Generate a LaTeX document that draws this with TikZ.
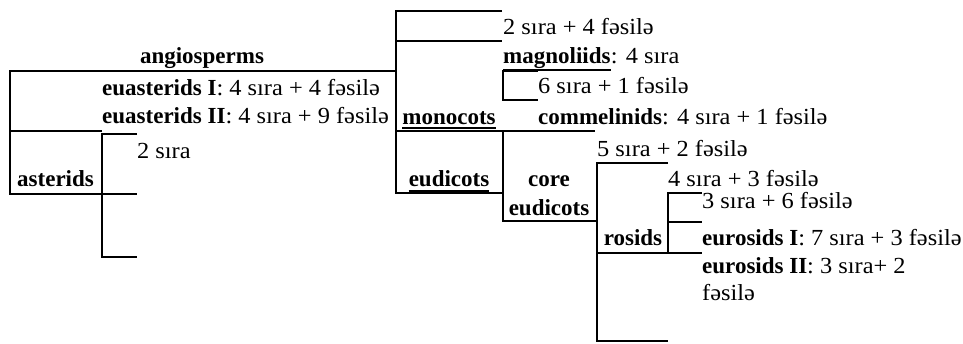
\documentclass[tikz,border=0pt]{standalone}
\usepackage{fontspec}
\setmainfont{Liberation Serif}
\newfontfamily\regf[FakeStretch=1.06]{Liberation Serif}
\newcommand{\rt}[1]{{\regf #1}}
\begin{document}
\begin{tikzpicture}[x=1pt,y=-1pt,
  tree/.style={line width=1.1pt},
  ul/.style={line width=2pt},
  lbl/.style={anchor=base west,inner sep=0pt,font=\fontsize{23}{27}\selectfont},
  blbl/.style={anchor=base west,inner sep=0pt,font=\fontsize{23}{27}\selectfont\bfseries},
  clbl/.style={anchor=base,inner sep=0pt,font=\fontsize{23}{27}\selectfont\bfseries}]
\useasboundingbox (0,0) rectangle (963,343);
% labels
\node[clbl] (angio) at (202,63) {angiosperms};
\node[lbl] (eaI) at (102,95) {\textbf{euasterids I}\rt{: 4 sıra + 4 fəsilə}};
\node[lbl] (eaII) at (102,123) {\textbf{euasterids II}\rt{: 4 sıra + 9 fəsilə}};
\node[lbl] (s2) at (137,158) {\rt{2 sıra}};
\node[blbl] (ast) at (17,186) {asterids};
\node[lbl] (t1) at (503,34) {\rt{2 sıra + 4 fəsilə}};
\node[blbl] (mag) at (503,63) {magnoliids};
\node[lbl] (magr) at (mag.base east) {\rt{: 4 sıra}};
\node[lbl] (t2) at (538,93) {\rt{6 sıra + 1 fəsilə}};
\node[clbl] (mono) at (449,124) {monocots};
\node[lbl] (comm) at (538,124) {\textbf{commelinids}\rt{: 4 sıra + 1 fəsilə}};
\node[clbl] (eud) at (449,186) {eudicots};
\node[clbl] (core) at (549,186) {core};
\node[clbl] (core2) at (549,215) {eudicots};
\node[lbl] (t3) at (597,156) {\rt{5 sıra + 2 fəsilə}};
\node[lbl] (t4) at (668,186) {\rt{4 sıra + 3 fəsilə}};
\node[lbl] (t5) at (702,208) {\rt{3 sıra + 6 fəsilə}};
\node[lbl] (euI) at (702,245) {\textbf{eurosids I}\rt{: 7 sıra + 3 fəsilə}};
\node[lbl] (euII) at (702,273) {\textbf{eurosids II}\rt{: 3 sıra+ 2}};
\node[lbl] (euII2) at (702,300) {\rt{fəsilə}};
\node[clbl] (ros) at (633,245) {rosids};
% underlines
\draw[ul] ([yshift=-7pt]mag.base west) -- ([yshift=-7pt]mag.base east);
\draw[ul] ([yshift=-4pt]mono.base west) -- ([yshift=-4pt]mono.base east);
\draw[ul] ([yshift=-5pt]eud.base west) -- ([yshift=-5pt]eud.base east);
% left tree
\draw[tree] (396,71) -- (10,71) -- (10,194) -- (137,194);
\draw[ul] (10,71) -- (102,71);
\draw[tree] (10,131) -- (102,131);
\draw[tree] (137,134) -- (102,134) -- (102,257) -- (137,257);
% middle tree
\draw[tree] (502,11) -- (396,11) -- (396,193) -- (503,193);
\draw[tree] (396,41) -- (502,41);
\draw[tree] (396,131) -- (595,131);
\draw[tree] (503,131) -- (503,221) -- (597,221);
\draw[tree] (538,71) -- (503,71) -- (503,100) -- (538,100);
% right tree
\draw[tree] (668,163) -- (597,163) -- (597,341) -- (668,341);
\draw[tree] (597,253) -- (702,253);
\draw[tree] (702,193) -- (668,193) -- (668,253);
\draw[tree] (668,222) -- (702,222);
\end{tikzpicture}
\end{document}
